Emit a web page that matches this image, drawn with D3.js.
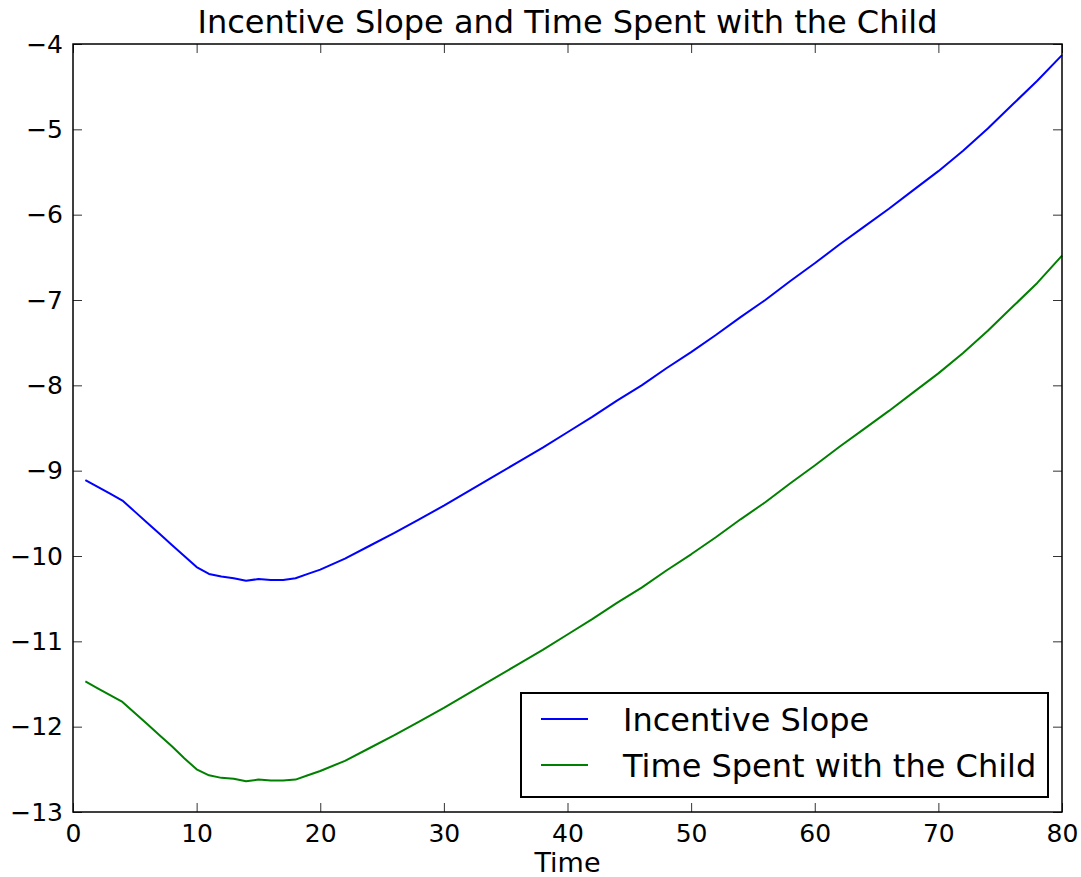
<!DOCTYPE html>
<meta charset="utf-8">
<style>
body { margin: 0; background: #fff; }
.frame line, .frame path { stroke: #333; }
.plot_style text { fill: #000; font-family: 'DejaVu Sans'; font-size: 25px; }
</style>
<body>
<div id="plot_1"></div>
<script src="https://d3js.org/d3.v7.min.js"></script>
<script>

    // data
    var time = [1, 2, 3, 4, 5, 6, 7, 8, 9, 10, 11, 12, 13, 14, 15, 16, 17, 18, 19, 20,
        22, 24, 26, 28, 30, 32, 34, 36, 38, 40, 42, 44, 46, 48, 50, 52, 54, 56, 58, 60,
        62, 64, 66, 68, 70, 72, 74, 76, 78, 80];

    var incentiveSlope = [-9.11, -9.19, -9.27, -9.35, -9.48, -9.61, -9.74, -9.87, -10.00, -10.13,
        -10.21, -10.24, -10.26, -10.29, -10.27, -10.28, -10.28, -10.26, -10.21, -10.16,
        -10.03, -9.88, -9.73, -9.57, -9.41, -9.24, -9.07, -8.90, -8.73, -8.55,
        -8.37, -8.18, -8.00, -7.80, -7.61, -7.41, -7.20, -7.00, -6.78, -6.57,
        -6.35, -6.14, -5.93, -5.71, -5.49, -5.25, -4.99, -4.71, -4.43, -4.13];

    var timeWithChild = [-11.47, -11.55, -11.63, -11.71, -11.84, -11.97, -12.10, -12.23, -12.37, -12.50,
        -12.57, -12.60, -12.61, -12.64, -12.62, -12.63, -12.63, -12.62, -12.57, -12.52,
        -12.40, -12.25, -12.10, -11.94, -11.78, -11.61, -11.44, -11.27, -11.10, -10.92,
        -10.74, -10.55, -10.37, -10.17, -9.98, -9.78, -9.57, -9.37, -9.15, -8.94,
        -8.72, -8.51, -8.30, -8.08, -7.86, -7.62, -7.36, -7.08, -6.80, -6.48];

    var xTicks = [0, 10, 20, 30, 40, 50, 60, 70, 80];
    var yTicks = [-13, -12, -11, -10, -9, -8, -7, -6, -5, -4];
    var seriesNames = ["Incentive Slope", "Time Spent with the Child"];
    var seriesColors = ["#0000ff", "#008000"];

    // set the dimensions and margins of the graph
    var margin = {top: 44, right: 19, bottom: 65, left: 73},
        width = 1081 - margin.left - margin.right,
        height = 877 - margin.top - margin.bottom;

    var x = d3.scaleLinear().domain([0, 80]).range([0, width]);
    var y = d3.scaleLinear().domain([-13, -4]).range([height, 0]);

    var svg_1 = d3.select("#plot_1").append("svg")
        .attr("width", 1081)
        .attr("height", 877)
        .append("g")
        .attr("transform", "translate(" + margin.left + "," + margin.top + ")");

    var series = [incentiveSlope, timeWithChild];

    var valueline = d3.line()
        .x(function(d, i) { return x(time[i]); })
        .y(function(d) { return y(d); });

    series.forEach(function(s, k) {
        svg_1.append("path")
            .datum(s)
            .attr("d", valueline)
            .style("fill", "none")
            .style("stroke-width", 2)
            .style("stroke-linejoin", "round")
            .style("stroke", seriesColors[k]);
    });

    // axes, ticks pointing inwards on all four sides
    svg_1.append("g")
        .attr("class", "plot_style frame")
        .attr("transform", "translate(0," + height + ")")
        .call(d3.axisBottom(x).tickValues(xTicks).tickSize(-9).tickPadding(12))
        .call(function(g) { g.select(".domain").remove(); });

    svg_1.append("g")
        .attr("class", "plot_style frame")
        .call(d3.axisLeft(y).tickValues(yTicks).tickSize(-9).tickPadding(10))
        .call(function(g) { g.select(".domain").remove(); });

    svg_1.append("g")
        .attr("class", "frame")
        .call(d3.axisTop(x).tickValues(xTicks).tickSize(-9).tickFormat(""))
        .call(function(g) { g.select(".domain").remove(); });

    svg_1.append("g")
        .attr("class", "frame")
        .attr("transform", "translate(" + width + ",0)")
        .call(d3.axisRight(y).tickValues(yTicks).tickSize(-9).tickFormat(""))
        .call(function(g) { g.select(".domain").remove(); });

    svg_1.append("rect")
        .attr("width", width)
        .attr("height", height)
        .style("fill", "none")
        .style("stroke", "#000")
        .style("stroke-width", 1.5);

    // x axis label
    svg_1.append("text")
        .attr("x", width / 2)
        .attr("y", height + 60)
        .attr("text-anchor", "middle")
        .style("font-family", "DejaVu Sans")
        .style("font-size", "27px")
        .text("Time");

    // title
    svg_1.append("text")
        .attr("x", width / 2)
        .attr("y", -11)
        .attr("text-anchor", "middle")
        .style("font-family", "DejaVu Sans")
        .style("font-size", "32px")
        .text("Incentive Slope and Time Spent with the Child");

    // legend
    var legend = svg_1.append("g")
        .attr("transform", "translate(" + (521 - margin.left) + "," + (693 - margin.top) + ")");

    legend.append("rect")
        .attr("width", 527)
        .attr("height", 104)
        .style("fill", "#fff")
        .style("stroke", "#000")
        .style("stroke-width", 2);

    seriesNames.forEach(function(name, k) {
        legend.append("line")
            .attr("x1", 20).attr("x2", 67)
            .attr("y1", 26 + k * 46).attr("y2", 26 + k * 46)
            .style("stroke", seriesColors[k])
            .style("stroke-width", 2);
        legend.append("text")
            .attr("x", 102)
            .attr("y", 26 + k * 46 + 11.5)
            .style("font-family", "DejaVu Sans")
            .style("font-size", "32px")
            .text(name);
    });

</script>
</body>
